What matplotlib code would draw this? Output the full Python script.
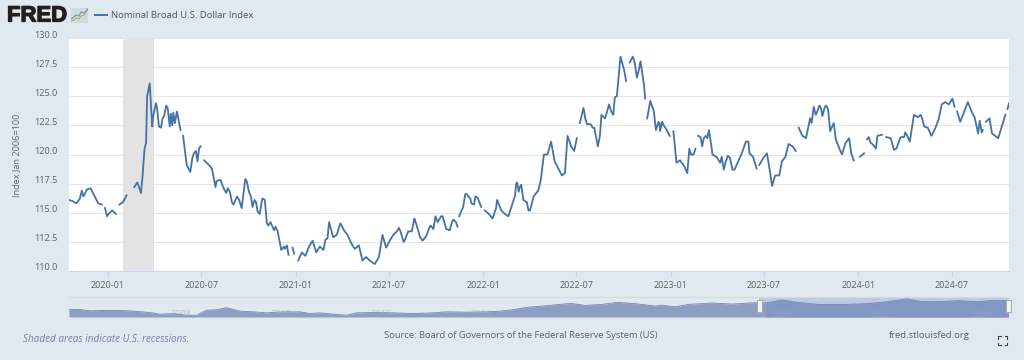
from matplotlib import pyplot as plt
from matplotlib.lines import Line2D
from matplotlib.patches import Rectangle
from matplotlib.transforms import ScaledTranslation
import matplotlib.patheffects as pe
import numpy as np

nan = np.nan
plt.rcParams['font.family'] = ['Open Sans', 'DejaVu Sans']

# days since 2020-01-01, nan in values = break in the series
days = [-75, -68, -61, -54, -47, -40, -33, -26, -18, -11, -8,
        -5, -1, 2, 9, 16, 19, 23, 30, 37, 41, 44, 48, 52, 58, 65, 68, 72, 75, 77, 82, 87, 94, 100, 107,
        114, 121, 128, 135, 142, 145, 147, 154, 161, 168, 175, 181, 185, 188, 195, 203, 210, 217, 224,
        231, 238, 245, 252, 261, 268, 275, 282, 289, 296, 303, 310, 317, 324, 331, 338, 345, 352, 356,
        360, 363, 367, 371, 378, 385, 392, 399, 406, 413, 420, 424, 431, 439, 446, 453, 460, 467, 474,
        481, 489, 496, 503, 510, 520, 528, 535, 542, 549, 556, 563, 570, 578, 585, 592, 598, 605, 613,
        620, 627, 634, 638, 645, 652, 659, 666, 673, 681, 682, 684, 692, 699, 706, 713, 720, 727, 730,
        734, 742, 749, 756, 759, 766, 773, 780, 788, 795, 802, 809, 816, 822, 829, 836, 843, 849, 856,
        863, 870, 877, 884, 890, 895, 902, 908, 913, 916, 919, 926, 933, 940, 947, 954, 961, 968, 976,
        984, 991, 998, 1005, 1009, 1012, 1016, 1023, 1030, 1037, 1044, 1046, 1048, 1050, 1056, 1063,
        1067, 1074, 1081, 1088, 1094, 1097, 1101, 1107, 1114, 1122, 1128, 1132, 1140, 1144, 1146, 1149,
        1157, 1164, 1170, 1177, 1185, 1192, 1199, 1203, 1211, 1220, 1227, 1234, 1242, 1249, 1256, 1263,
        1265, 1268, 1276, 1283, 1289, 1293, 1299, 1307, 1312, 1319, 1325, 1333, 1339, 1342, 1345, 1352,
        1359, 1367, 1374, 1381, 1388, 1395, 1402, 1406, 1413, 1417, 1424, 1429, 1436, 1443, 1447, 1452,
        1455, 1458, 1461, 1464, 1472, 1475, 1478, 1485, 1492, 1498, 1507, 1511, 1515, 1524, 1530, 1535,
        1542, 1550, 1555, 1561, 1569, 1577, 1585, 1589, 1596, 1603, 1611, 1617, 1623, 1630, 1637, 1644,
        1648, 1650, 1653, 1659, 1666, 1674, 1681, 1687, 1694, 1699, 1703, 1706, 1709, 1716, 1721, 1727,
        1733, 1740, 1747, 1749, 1751, 1754]
values = [116.1, 116.0, 115.8, 116.2, 116.4, 117.0, 117.1, 116.5, 115.8, 115.7, nan,
          115.4, 114.7, 114.9, 115.2, 114.9, nan, 115.7, 115.9, 116.5, nan, 116.4, nan, 117.2, 117.6, 116.7,
          118.1, 120.5, 121.0, 125.0, 126.1, 122.4, 124.4, 122.4, 123.1,
          124.2, 122.4, 123.6, 123.7, 122.1, nan, 121.6, 119.1, 118.5, 120.1, 119.4, 120.7, nan, 119.5, 119.2,
          118.8, 117.2, 117.8, 117.3,
          116.7, 116.8, 115.7, 116.4, 115.4, 117.9, 116.8, 115.5, 115.9, 114.9, 116.2, 114.1, 114.2, 113.5,
          113.4, 111.8, 111.9, 111.4, nan,
          112.0, 111.5, nan, 110.9, 111.6, 111.3, 112.1, 112.6, 111.6, 112.1, 111.8, 112.7, 114.2, 112.9, 113.1,
          114.1, 113.5, 113.1, 112.4,
          111.9, 112.2, 110.9, 111.2, 110.9, 110.6, 111.2, 113.1, 112.0, 112.6, 113.1, 113.4, 113.4, 112.6,
          113.4, 113.4, 114.4, 113.4, 112.6,
          113.0, 113.8, 113.6, 114.7, 114.4, 114.7, 113.6, 113.5, 114.4, 113.8, nan, 114.7, 115.5, 116.6, 116.2,
          115.7, 116.3, 115.5, nan,
          115.2, 114.9, 114.5, 115.4, 116.0, 115.2, 114.9, 114.7, 115.8, 117.5, 117.2, 116.1, 115.9, 115.2,
          116.4, 116.8, 117.8, 120.0, 120.0,
          121.1, 119.4, 118.8, 118.2, 118.4, 121.6, 120.7, 120.3, 121.4, nan, 122.7, 124.0, 122.6, 122.6, 122.3,
          120.7, 123.4, 123.1, 124.3,
          123.4, 125.0, 128.4, 127.3, 126.3, nan, 127.9, 128.3, 126.6, 128.0, 125.9, 124.8, nan, 123.1, 124.6,
          123.7,
          122.1, 122.7, 122.6, 122.1, 121.6, nan, 122.0, 119.3, 119.5, 119.0, 118.4, 120.5, 120.0, 120.5, nan,
          121.6,
          120.7, 121.6, 122.1, 120.0, 119.8, 119.3, 118.7, 119.4, 119.7, 118.7, 119.4, 120.1, 121.1, 120.1,
          119.8, 118.8,
          nan, 119.1, 119.7, 120.1, 118.5, 117.3, 118.2, 118.2, 119.4, 119.8, 120.9, 120.7, 120.3, nan, 122.3,
          121.6,
          121.4, 123.1, 124.1, 123.7, 124.0, 124.0, 123.9, 122.0, 122.7, 121.3, 120.5, 120.0, 121.0, 121.4,
          120.1, 119.5,
          nan, 118.8, nan, 119.8, 120.1, nan, 121.3, 121.0, 120.7, 121.6, 121.7, nan, 121.5, 121.4, 120.4,
          120.5,
          121.4, 121.5, 121.7, 121.1, 123.4, 123.2, 123.1, 122.4, 122.3, 121.6, 122.3, 123.0, 124.3, 124.5,
          124.3, 124.8,
          124.1, nan, 123.7, 122.8, 123.6, 124.5, 123.7, 123.2, 121.8, 122.4, 122.1, nan, 122.8, 123.1, 121.8,
          121.6,
          121.4, 122.4, 123.4, nan, 123.9, 124.4]

# the small zigzags between the points above
detail_days = [-50, 89, 96, 104, 110, 117, 123, 126, 131, 138, 165, 172, 178, 212, 220, 227, 234, 242, 256, 271,
               279, 286, 292, 301, 306, 313, 327, 343, 349, 428, 567, 576, 597, 608, 629, 642, 649, 670, 678,
               696, 708, 716, 758, 793, 797, 800, 805, 819, 838, 930, 944, 958, 980, 987, 1022, 1026, 1034,
               1072, 1075, 1079, 1135, 1154, 1160, 1167, 1175, 1195, 1207, 1216, 1247, 1370, 1378, 1385, 1391,
               1398, 1481, 1488, 1495, 1545, 1552, 1558, 1582, 1697, 1701]
detail_values = [116.9, 123.3, 124.1, 122.3, 123.3, 124.0, 123.5, 122.5, 122.7, 123.0, 119.7, 120.3, 120.5, 117.7,
                 117.8, 117.0, 117.1, 115.9, 116.1, 117.7, 116.4, 116.1, 115.1, 116.2, 116.1, 113.9, 113.8,
                 112.1, 112.2, 112.8, 113.7, 112.5, 114.5, 112.9, 113.9, 114.2, 114.7, 114.2, 114.2, 116.6,
                 115.8, 116.4, 116.1, 116.5, 117.6, 116.8, 117.4, 115.2, 116.9, 123.0, 122.3, 121.6, 123.7,
                 124.9, 128.4, 127.8, 127.3, 122.8, 122.0, 122.8, 120.0, 121.5, 121.4, 121.4, 120.7, 119.8,
                 119.9, 118.7, 121.1, 122.7, 123.4, 124.2, 123.3, 124.2, 121.5, 120.9, 120.5, 121.5, 121.9,
                 121.4, 123.4, 122.9, 121.9]

y_ticks = [110.0, 112.5, 115.0, 117.5, 120.0, 122.5, 125.0, 127.5, 130.0]
x_tick_labels = ['2020-01', '2020-07', '2021-01', '2021-07', '2022-01', '2022-07', '2023-01', '2023-07', '2024-01', '2024-07']
x_tick_days = [0, 182, 366, 547, 731, 912, 1096, 1277, 1461, 1643]
recession_days = [31, 90]

# overview strip under the chart
nav_years = [2006.0, 2006.22, 2006.42, 2006.69, 2007.02, 2007.29, 2007.62, 2007.82, 2008.09, 2008.35,
             2008.55, 2008.75, 2008.95, 2009.15, 2009.42, 2009.69, 2009.95, 2010.29, 2010.62, 2010.82,
             2011.02, 2011.29, 2011.55, 2011.75, 2012.09, 2012.49, 2012.89, 2013.29, 2013.55, 2013.95,
             2014.35, 2014.62, 2014.86, 2015.19, 2015.53, 2016.03, 2016.33, 2016.66, 2016.96, 2017.33,
             2017.73, 2017.86, 2018.13, 2018.39, 2018.86, 2019.26, 2019.73, 2019.93, 2020.26, 2020.53,
             2020.99, 2021.53, 2021.93, 2022.26, 2022.76, 2023.06, 2023.39, 2023.79, 2024.19, 2024.46, 2024.79]
nav_values = [103.7, 103.7, 100.5, 101.3, 101.3, 99.7, 96.5, 92.5, 94.0, 90.0,
              90.0, 102.0, 102.9, 107.8, 99.7, 98.1, 95.7, 98.1, 98.1, 94.0,
              95.7, 92.5, 90.0, 95.7, 96.5, 95.7, 94.0, 95.7, 98.1, 97.3,
              98.1, 99.7, 102.9, 109.0, 112.2, 117.9, 113.0, 115.5, 120.3, 117.1,
              111.5, 113.8, 109.8, 115.5, 118.7, 116.3, 119.5, 118.7, 125.9, 121.0,
              115.5, 115.5, 117.1, 120.3, 128.3, 121.8, 121.8, 124.2, 121.8, 125.0, 124.2]
nav_labels = [2008, 2010, 2012, 2014, 2016, 2018, 2020, 2022, 2024]

bg = '#e1e9f0'
blue = '#4572a7'
W, H = 1024, 360


def px_axes(left, top, right, bottom):
    return fig.add_axes([left / W, 1 - bottom / H, (right - left) / W, (bottom - top) / H])


def px_text(x, y, s, **kw):
    return fig.text(x / W, 1 - y / H, s, **kw)


def px_line(xs, ys, **kw):
    fig.add_artist(Line2D([x / W for x in xs], [1 - y / H for y in ys], **kw))


fig = plt.figure(figsize=(W / 100, H / 100), dpi=100, facecolor=bg)

all_days = np.array(days + detail_days)
all_values = np.array(values + detail_values)
order = np.argsort(all_days, kind='stable')

# main chart
ax = px_axes(69, 38, 1009, 271)
ax.axvspan(recession_days[0], recession_days[1], color='#e3e3e3', lw=0, zorder=1)
ax.plot(all_days[order], all_values[order], color=blue, lw=1.3, zorder=3, solid_joinstyle='round')
ax.set_xlim(-75, 1754)
ax.set_ylim(110, 130)
ax.set_yticks(y_ticks)
ax.set_yticklabels(['%.1f' % t for t in y_ticks])
ax.set_xticks(x_tick_days)
ax.set_xticklabels(x_tick_labels)
ax.grid(axis='y', color='#e6e6e6', lw=0.75, zorder=0)
ax.set_axisbelow(True)
for side in ['top', 'left', 'right']:
    ax.spines[side].set_visible(False)
ax.spines['bottom'].set_color('#ccd6eb')
ax.tick_params(axis='y', length=0, pad=8, labelsize=6.6, labelcolor='#606060')
ax.tick_params(axis='x', length=4, width=0.8, color='#ccd6eb', pad=3, labelsize=6.5, labelcolor='#606060')
up = ScaledTranslation(0, 4 / 100, fig.dpi_scale_trans)
for lab in ax.get_yticklabels():
    lab.set_transform(lab.get_transform() + up)
px_text(17, 155, 'Index Jan 2006=100', rotation=90, ha='center', va='center', fontsize=6.6, color='#666666')

# overview strip
nav = px_axes(69, 297, 1009, 317)
nav.set_xlim(2006, 2024.8)
nav.set_ylim(86, 132.8)
nav.add_patch(Rectangle((2019.8, 86), 5, 46.8, color='#bfcbe2', lw=0, zorder=1))
nav.fill_between(nav_years, nav_values, 86, color='#8c9fc2', lw=0, zorder=2)
mask = np.array(nav_years) >= 2019.8
nav.fill_between(np.array(nav_years)[mask], np.array(nav_values)[mask], 86, color='#8497c3', lw=0, zorder=3)
nav.plot(nav_years, nav_values, color='#6f88b4', lw=0.6, zorder=4)
nav.axis('off')
for yr in nav_labels:
    nav.text(yr + 0.24, 93, str(yr), ha='center', va='center', fontsize=6.5, color='#9aa3b0', alpha=0.6, zorder=5)
px_line([69, 1009], [297, 297], color='#d4dae2', lw=0.8)
for hx in [759, 1008]:
    fig.add_artist(Rectangle(((hx - 2.5) / W, 1 - 312 / H), 5 / W, 12 / H, transform=fig.transFigure,
                             facecolor='#f2f2f2', edgecolor='#a8a8a8', lw=0.7))

# header
logo = px_text(7, 16, 'FRED', fontsize=15.9, fontweight='bold', family='Liberation Sans', color='#231f20', ha='left', va='center')
logo.set_path_effects([pe.withStroke(linewidth=0.9, foreground='#231f20')])
icon = px_axes(71, 8, 88, 23)
icon.set_facecolor('#d4dbde')
icon.plot([0, 3, 5, 8, 10, 13, 17], [2, 3, 5, 4, 7, 8, 14], color='#9db36f', lw=0.8)
icon.plot([0, 3, 5, 8, 10, 13, 17], [4, 6, 8, 7, 11, 10, 14.5], color='#7f97b5', lw=0.8)
icon.set_xlim(0, 17)
icon.set_ylim(0, 15)
icon.set_xticks([])
icon.set_yticks([])
for side in icon.spines:
    icon.spines[side].set_visible(False)
px_line([95, 107], [15, 15], color=blue, lw=1.4)
px_text(111, 16, 'Nominal Broad U.S. Dollar Index', fontsize=6.8, color='#555555', ha='left', va='center')

# footer
px_text(23, 339, 'Shaded areas indicate U.S. recessions.', fontsize=7.1, style='italic', color='#6b84ad', ha='left', va='center')
px_text(384, 336, 'Source: Board of Governors of the Federal Reserve System (US)', fontsize=6.75, color='#606060', ha='left', va='center')
px_text(889, 336, 'fred.stlouisfed.org', fontsize=6.8, color='#606060', ha='left', va='center')
for cx, cy, dx, dy in [(998, 336, 1, 1), (1007, 336, -1, 1), (998, 345, 1, -1), (1007, 345, -1, -1)]:
    px_line([cx + 2.5 * dx, cx, cx], [cy, cy, cy + 2.5 * dy], color='#444444', lw=0.8)

fig.savefig('out.png', dpi=100, facecolor=bg)
